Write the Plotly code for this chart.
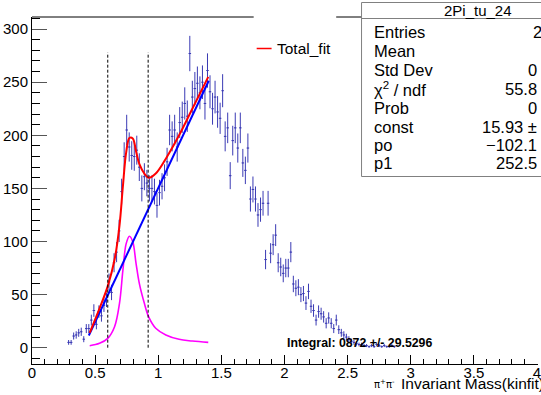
import numpy as np
import plotly.graph_objects as go

# ---------------- data ----------------
hist_start = 0.29      # first bin centre
bin_width = 0.02
counts = [5, 5, 11, 12, 14, 15, 8, 18, 18, 26,
          35, 22, 34, 30, 40, 45, 62, 52, 80, 90,
          110, 147, 180, 205, 189, 181, 180, 186, 170, 150,
          161, 155, 150, 150, 147, 134, 146, 152, 160, 175,
          205, 199, 205, 189, 212, 217, 230, 218, 277, 236,
          244, 249, 240, 250, 230, 261, 241, 225, 236, 222,
          216, 242, 199, 207, 162, 195, 207, 188, 207, 174,
          167, 188, 140, 149, 140, 125, 130, 136, 83, 136,
          89, 97, 106, 80, 76, 70, 75, 75, 90, 60,
          56, 57, 50, 51, 42, 53, 39, 35, 26, 34,
          32, 29, 23, 28, 23, 18, 26, 17, 14, 12,
          10, 8, 6, 5, 4, 3, 3, 2, 2, 1,
          2, 1, 3, 2, 1, 2, 1, 1, 2, 1]

# fit curves
fit_x = [0.457, 0.535, 0.60, 0.654, 0.693, 0.72, 0.746, 0.772, 0.798, 0.824,
         0.85, 0.89, 0.924, 0.98, 1.06, 1.165, 1.27, 1.396]
sig_y = [1.9, 4.1, 8.8, 19.8, 41.8, 73, 98, 105, 99.8, 79.5,
         60.6, 41.8, 29, 18.3, 12, 7.9, 6.3, 5]
tot_y = [14, 37, 58, 83, 115, 152, 184, 197.5, 197, 185,
         173, 164, 160, 164, 178, 200, 225, 255]
bg_x = [0.45, 1.40]
bg_y = [11.5, 251.4]

cut_x = [0.6, 0.92]
cut_top = 278

x_ticks = [0, 0.5, 1, 1.5, 2, 2.5, 3, 3.5, 4]
x_ticklabels = ["0", "0.5", "1", "1.5", "2", "2.5", "3", "3.5", "4"]
y_ticks = [0, 50, 100, 150, 200, 250, 300]

stat_labels = ["Entries", "Mean", "Std Dev", "χ<sup>2</sup> / ndf", "Prob", "const", "po", "p1"]
stat_values = ["2", "", "0", "55.8", "0", "15.93 ±", "−102.1", "252.5"]

# ---------------- figure ----------------
W, H = 541, 395
L, R, T, B = 32, 0, 17, 31
pw, ph = W - L - R, H - T - B


def px(x):
    return (x - L) / pw


def py(y):
    return (H - B - y) / ph


centers = hist_start + bin_width * np.arange(len(counts))
cnt = np.array(counts, dtype=float)
err = np.sqrt(cnt)
dcol = "#3a3ab4"
FONT = "Liberation Sans, Arial, Helvetica, sans-serif"

fig = go.Figure()
fig.add_trace(go.Scatter(
    x=centers, y=cnt, mode="markers",
    marker=dict(size=1, color=dcol),
    error_y=dict(type="data", array=err, visible=True, width=0, thickness=1, color=dcol),
    error_x=dict(type="constant", value=bin_width / 2, visible=True, width=0, thickness=1, color=dcol),
    showlegend=False, hoverinfo="skip"))
fig.add_trace(go.Scatter(x=fit_x, y=sig_y, mode="lines", line=dict(color="#ff00ff", width=1.6, shape="spline"),
                         showlegend=False))
fig.add_trace(go.Scatter(x=bg_x, y=bg_y, mode="lines", line=dict(color="#0000ff", width=2),
                         showlegend=False))
fig.add_trace(go.Scatter(x=fit_x, y=tot_y, mode="lines", line=dict(color="#ff0000", width=2, shape="spline"),
                         showlegend=False))

shapes = []
for cx in cut_x:
    shapes.append(dict(type="line", xref="x", yref="y", x0=cx, x1=cx, y0=0, y1=cut_top,
                       line=dict(color="black", width=1, dash="3px,2px")))
# frame top segments
shapes.append(dict(type="line", xref="paper", yref="paper", x0=0, x1=px(255), y0=1, y1=1,
                   line=dict(color="black", width=1)))
shapes.append(dict(type="line", xref="paper", yref="paper", x0=px(338), x1=px(364), y0=1, y1=1,
                   line=dict(color="black", width=1)))
# stats box
shapes.append(dict(type="rect", xref="paper", yref="paper", x0=px(363.5), x1=px(600), y0=py(176.5), y1=py(2.5),
                   line=dict(color="#808080", width=1), fillcolor="white", layer="above"))
shapes.append(dict(type="line", xref="paper", yref="paper", x0=px(363.5), x1=px(600), y0=py(18.5), y1=py(18.5),
                   line=dict(color="#808080", width=1), layer="above"))
# legend line sample
shapes.append(dict(type="line", xref="paper", yref="paper", x0=px(258), x1=px(273), y0=py(48.5), y1=py(48.5),
                   line=dict(color="#ff0000", width=1.5)))

ann = []
ann.append(dict(xref="paper", yref="paper", x=px(276), y=py(48), text="Total_fit", showarrow=False,
                xanchor="left", yanchor="middle", font=dict(family=FONT, size=15.5, color="black")))
ann.append(dict(xref="paper", yref="paper", x=px(481), y=py(10.5), text="2Pi_tu_24", showarrow=False,
                xanchor="center", yanchor="middle", font=dict(family=FONT, size=15, color="black")))
row_y = [32.3, 51.3, 70.2, 88.8, 107.5, 126.5, 144.5, 163]
for i, (lab, val, ry) in enumerate(zip(stat_labels, stat_values, row_y)):
    ann.append(dict(xref="paper", yref="paper", x=px(374), y=py(ry), text=lab, showarrow=False,
                    xanchor="left", yanchor="middle", font=dict(family=FONT, size=16.5, color="black")))
    if val:
        xr = 547 if i == 0 else 542
        ann.append(dict(xref="paper", yref="paper", x=px(xr), y=py(ry), text=val, showarrow=False,
                        xanchor="right", yanchor="middle", font=dict(family=FONT, size=16.5, color="black")))
ann.append(dict(xref="paper", yref="paper", x=px(286), y=py(343), text="<b>Integral: 0872 +/- 29.5296</b>",
                showarrow=False, xanchor="left", yanchor="middle", font=dict(family=FONT, size=12.3, color="black")))
ann.append(dict(xref="paper", yref="paper", x=px(399), y=py(383.5),
                text="π<sup>+</sup>π<sup>-</sup>", showarrow=False,
                xanchor="right", yanchor="middle", font=dict(family="DejaVu Sans, sans-serif", size=10, color="black")))
ann.append(dict(xref="paper", yref="paper", x=px(401), y=py(384),
                text="Invariant Mass(kinfit)", showarrow=False,
                xanchor="left", yanchor="middle", font=dict(family=FONT, size=15.5, color="black")))

x_max = (W - L) / 127.0
y0_px = 347.7
ppu = 1.062
y_lo = -(H - B - y0_px) / ppu
y_hi = (y0_px - T) / ppu

fig.update_layout(
    width=W, height=H, margin=dict(l=L, r=R, t=T, b=B, pad=0),
    paper_bgcolor="white", plot_bgcolor="white",
    shapes=shapes, annotations=ann, showlegend=False,
    font=dict(family=FONT, size=15, color="black"),
    xaxis=dict(range=[0, x_max], showgrid=False, zeroline=False, showline=True, linecolor="black", linewidth=1,
               ticks="inside", ticklen=9, tickcolor="black", tickvals=x_ticks, ticktext=x_ticklabels,
               ticklabelstandoff=-5, ticklabeloverflow="allow",
               minor=dict(dtick=0.1, ticks="inside", ticklen=5, tickcolor="black", showgrid=False),
               tickfont=dict(family=FONT, size=15, color="black")),
    yaxis=dict(range=[y_lo, y_hi], showgrid=False, zeroline=False, showline=True, linecolor="black", linewidth=1,
               ticks="inside", ticklen=15, tickcolor="#555555", tickvals=y_ticks,
               minor=dict(dtick=10, ticks="inside", ticklen=8, tickcolor="black", showgrid=False),
               tickfont=dict(family=FONT, size=15, color="black")),
)

fig.write_html("out.html")
